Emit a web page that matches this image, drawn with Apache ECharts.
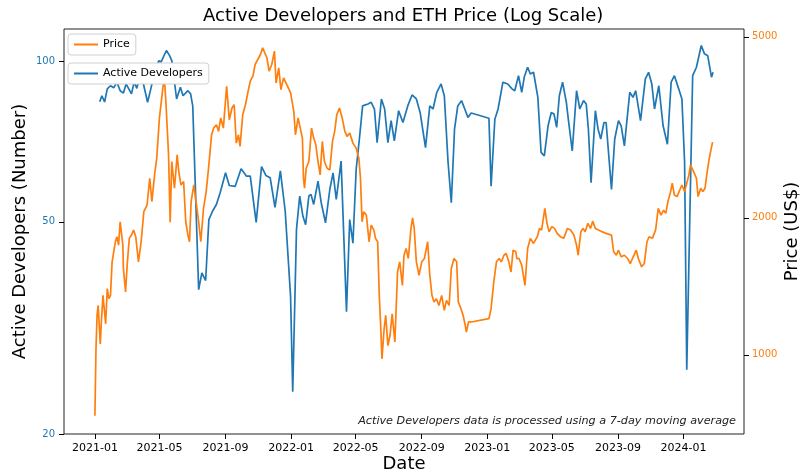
<!DOCTYPE html>
<html><head><meta charset="utf-8">
<script src="https://cdn.jsdelivr.net/npm/echarts@6/dist/echarts.min.js"></script>
<style>html,body{margin:0;padding:0;background:#fff}#c{width:801px;height:472px}</style>
</head><body><div id="c"></div>
<script>
const devDates = ['2021-01-10','2021-01-14','2021-01-19','2021-01-24','2021-01-30','2021-02-05','2021-02-11','2021-02-17','2021-02-23','2021-02-28','2021-03-03','2021-03-10','2021-03-15','2021-03-20','2021-03-27','2021-04-02','2021-04-09','2021-04-15','2021-04-22','2021-04-30','2021-05-04','2021-05-14','2021-05-20','2021-05-24','2021-06-02','2021-06-09','2021-06-14','2021-06-23','2021-06-28','2021-07-02','2021-07-07','2021-07-13','2021-07-19','2021-07-26','2021-08-01','2021-08-08','2021-08-15','2021-08-22','2021-09-01','2021-09-08','2021-09-19','2021-09-30','2021-10-10','2021-10-17','2021-10-28','2021-11-07','2021-11-15','2021-11-23','2021-12-02','2021-12-12','2021-12-21','2021-12-31','2022-01-04','2022-01-11','2022-01-17','2022-01-23','2022-01-28','2022-02-03','2022-02-07','2022-02-12','2022-02-20','2022-02-26','2022-03-06','2022-03-14','2022-03-20','2022-03-26','2022-04-04','2022-04-14','2022-04-20','2022-04-26','2022-05-02','2022-05-08','2022-05-14','2022-05-24','2022-05-30','2022-06-05','2022-06-10','2022-06-18','2022-06-24','2022-06-30','2022-07-06','2022-07-12','2022-07-20','2022-07-28','2022-08-06','2022-08-14','2022-08-22','2022-08-29','2022-09-08','2022-09-16','2022-09-22','2022-09-29','2022-10-07','2022-10-13','2022-10-20','2022-10-26','2022-11-01','2022-11-07','2022-11-14','2022-11-20','2022-11-26','2022-12-02','2023-01-04','2023-01-08','2023-01-15','2023-01-21','2023-01-30','2023-02-08','2023-02-16','2023-02-21','2023-02-28','2023-03-06','2023-03-11','2023-03-17','2023-03-22','2023-03-28','2023-04-05','2023-04-11','2023-04-17','2023-04-24','2023-04-30','2023-05-05','2023-05-10','2023-05-15','2023-05-21','2023-05-28','2023-06-01','2023-06-08','2023-06-16','2023-06-22','2023-06-29','2023-07-04','2023-07-08','2023-07-13','2023-07-21','2023-07-26','2023-07-31','2023-08-06','2023-08-10','2023-08-20','2023-08-26','2023-09-02','2023-09-07','2023-09-13','2023-09-23','2023-09-29','2023-10-04','2023-10-13','2023-10-22','2023-10-28','2023-11-03','2023-11-08','2023-11-16','2023-11-24','2023-12-02','2023-12-09','2023-12-15','2023-12-23','2023-12-29','2024-01-03','2024-01-07','2024-01-12','2024-01-18','2024-01-25','2024-02-03','2024-02-09','2024-02-15','2024-02-22','2024-02-25'];
const devValues = [84.0,86.2,83.9,88.8,90.0,89.2,91.4,88.1,87.2,90.7,91.4,86.9,91.4,89.0,95.4,90.0,83.8,88.8,95.4,100.3,99.7,104.8,102.5,100.3,85.0,89.4,86.2,88.1,86.9,82.5,57.5,37.3,40.1,38.8,50.5,52.4,53.9,56.7,61.8,58.5,58.3,62.9,60.9,60.9,49.9,63.5,61.1,60.5,53.2,62.3,52.4,36.2,24.0,48.4,55.9,51.2,49.4,55.9,56.3,53.9,59.6,54.3,49.8,57.5,61.8,55.1,65.0,33.9,50.5,45.6,62.7,71.5,82.5,83.2,83.8,81.4,70.4,85.0,81.4,70.4,77.4,70.9,80.8,76.8,82.5,86.5,85.0,80.2,68.9,82.5,81.4,87.5,90.7,86.2,64.6,54.3,74.6,82.5,84.4,81.4,78.5,80.0,78.2,58.3,77.9,81.4,91.4,90.7,88.8,88.1,94.0,87.5,93.7,97.5,94.7,95.4,85.6,67.5,66.5,75.7,80.2,79.7,75.2,86.2,91.4,83.8,77.4,67.9,88.1,81.4,84.4,83.2,74.6,59.2,80.8,74.6,71.5,76.8,76.8,57.5,71.5,77.4,75.7,69.4,87.5,85.6,88.1,77.4,92.7,95.4,90.7,81.4,90.0,75.7,69.9,91.4,94.0,88.8,85.0,64.6,26.4,47.0,94.0,97.5,107.1,103.3,102.5,93.4,95.4];

const priceDates = ['2021-01-01','2021-01-03','2021-01-05','2021-01-07','2021-01-11','2021-01-13','2021-01-16','2021-01-21','2021-01-24','2021-01-27','2021-01-30','2021-02-02','2021-02-05','2021-02-08','2021-02-11','2021-02-14','2021-02-17','2021-02-22','2021-02-23','2021-02-27','2021-03-02','2021-03-06','2021-03-10','2021-03-14','2021-03-18','2021-03-23','2021-03-28','2021-04-02','2021-04-08','2021-04-13','2021-04-17','2021-04-22','2021-04-26','2021-05-01','2021-05-06','2021-05-10','2021-05-13','2021-05-18','2021-05-21','2021-05-24','2021-05-29','2021-06-03','2021-06-06','2021-06-10','2021-06-15','2021-06-19','2021-06-23','2021-06-26','2021-06-29','2021-07-04','2021-07-09','2021-07-13','2021-07-17','2021-07-22','2021-07-27','2021-08-01','2021-08-06','2021-08-10','2021-08-15','2021-08-19','2021-08-23','2021-08-28','2021-09-03','2021-09-08','2021-09-13','2021-09-17','2021-09-21','2021-09-25','2021-09-28','2021-10-03','2021-10-08','2021-10-13','2021-10-17','2021-10-22','2021-10-26','2021-10-31','2021-11-05','2021-11-09','2021-11-13','2021-11-17','2021-11-21','2021-11-26','2021-12-01','2021-12-04','2021-12-09','2021-12-13','2021-12-18','2021-12-24','2021-12-31','2022-01-03','2022-01-06','2022-01-09','2022-01-14','2022-01-18','2022-01-22','2022-01-24','2022-01-26','2022-01-29','2022-02-03','2022-02-08','2022-02-12','2022-02-16','2022-02-20','2022-02-24','2022-02-28','2022-03-04','2022-03-09','2022-03-14','2022-03-19','2022-03-23','2022-03-27','2022-04-01','2022-04-06','2022-04-11','2022-04-15','2022-04-20','2022-04-26','2022-05-02','2022-05-07','2022-05-10','2022-05-13','2022-05-16','2022-05-21','2022-05-26','2022-05-30','2022-06-04','2022-06-07','2022-06-11','2022-06-14','2022-06-17','2022-06-19','2022-06-23','2022-06-26','2022-06-30','2022-07-04','2022-07-08','2022-07-13','2022-07-18','2022-07-22','2022-07-27','2022-07-30','2022-08-03','2022-08-07','2022-08-12','2022-08-15','2022-08-18','2022-08-22','2022-08-27','2022-09-01','2022-09-06','2022-09-12','2022-09-16','2022-09-20','2022-09-24','2022-09-28','2022-10-03','2022-10-08','2022-10-13','2022-10-17','2022-10-22','2022-10-26','2022-10-31','2022-11-05','2022-11-08','2022-11-13','2022-11-17','2022-11-21','2022-11-23','2022-11-27','2022-12-02','2023-01-04','2023-01-08','2023-01-13','2023-01-18','2023-01-23','2023-01-27','2023-02-01','2023-02-05','2023-02-10','2023-02-14','2023-02-18','2023-02-23','2023-02-25','2023-03-01','2023-03-06','2023-03-12','2023-03-17','2023-03-22','2023-03-28','2023-04-04','2023-04-08','2023-04-12','2023-04-18','2023-04-22','2023-04-26','2023-05-01','2023-05-06','2023-05-11','2023-05-17','2023-05-23','2023-05-30','2023-06-05','2023-06-11','2023-06-16','2023-06-19','2023-06-24','2023-06-28','2023-07-02','2023-07-07','2023-07-12','2023-07-16','2023-07-21','2023-07-27','2023-08-02','2023-08-10','2023-08-20','2023-08-24','2023-08-29','2023-09-02','2023-09-07','2023-09-13','2023-09-19','2023-09-24','2023-09-28','2023-10-05','2023-10-09','2023-10-15','2023-10-20','2023-10-25','2023-10-29','2023-11-04','2023-11-10','2023-11-15','2023-11-20','2023-11-25','2023-11-29','2023-12-03','2023-12-08','2023-12-11','2023-12-15','2023-12-20','2023-12-25','2023-12-29','2024-01-03','2024-01-11','2024-01-14','2024-01-21','2024-01-25','2024-01-28','2024-02-02','2024-02-06','2024-02-10','2024-02-14','2024-02-18','2024-02-21','2024-02-24'];
const priceValues = [735,1031,1221,1284,1057,1181,1351,1170,1398,1329,1351,1601,1684,1772,1818,1742,1961,1742,1548,1375,1574,1803,1833,1880,1818,1601,1772,2063,2134,2444,2172,2486,2705,3315,3730,4097,3608,2751,1955,2660,2323,2751,2528,2362,2403,1961,1833,1772,2172,2362,2134,1961,1772,2099,2284,2615,3045,3150,3203,3098,3315,3150,3893,3285,3486,3545,2919,3045,2871,3371,3545,3795,3994,4097,4345,4457,4571,4729,4610,4496,4203,4345,4651,3959,4273,3826,4062,3925,3763,3730,3428,3045,3315,3150,2994,2444,2323,2571,2660,3150,2994,2894,2660,2486,2944,2660,2571,2549,2944,3098,3371,3486,3315,3098,3020,3071,2919,2846,2705,2444,1961,2063,2028,1772,1928,1880,1803,1772,1351,1131,980,1141,1221,1048,1103,1231,1067,1521,1601,1421,1655,1713,1628,1896,2000,1896,1601,1496,1601,1628,1772,1496,1351,1307,1329,1284,1351,1252,1317,1284,1548,1628,1601,1307,1263,1221,1160,1122,1181,1181,1201,1263,1446,1601,1628,1601,1655,1670,1601,1521,1698,1684,1628,1628,1574,1421,1713,1803,1757,1818,1896,1880,2099,1945,1865,1913,1896,1849,1818,1803,1896,1880,1833,1742,1655,1865,1896,1865,1945,1896,1967,1896,1880,1865,1849,1833,1684,1655,1698,1642,1655,1628,1587,1628,1698,1628,1561,1587,1772,1818,1803,1880,2099,2028,2080,2046,2172,2284,2383,2245,2227,2303,2362,2284,2486,2615,2507,2444,2227,2323,2284,2323,2528,2705,2822,2934];

const xTickLabels = ['2021-01','2021-05','2021-09','2022-01','2022-05','2022-09','2023-01','2023-05','2023-09','2024-01'];
const devTicks = [20, 50, 100];
const priceTicks = [1000, 2000, 5000];
const devRange = [20, 115];
const priceRange = [670, 5200];

function ts(s) { const p = s.split('-'); return Date.UTC(+p[0], +p[1] - 1, p[2] ? +p[2] : 1); }
function fmtMonth(v) { const d = new Date(v); return d.getUTCFullYear() + '-' + String(d.getUTCMonth() + 1).padStart(2, '0'); }

const allT = devDates.concat(priceDates).map(ts);
const tMin = Math.min.apply(null, allT), tMax = Math.max.apply(null, allT);
const pad = (tMax - tMin) * 0.05;

const devData = devDates.map((d, i) => [ts(d), Math.log10(devValues[i])]);
const priceData = priceDates.map((d, i) => [ts(d), Math.log10(priceValues[i])]);

const FONT = '"DejaVu Sans", sans-serif';
const chart = echarts.init(document.getElementById('c'), null, { renderer: 'canvas' });
const legendBase = {
  orient: 'vertical', left: 68, icon: 'rect', itemWidth: 24, itemHeight: 2, padding: [4, 6],
  backgroundColor: '#fff', borderColor: '#d0d0d0', borderWidth: 1, borderRadius: 3,
  textStyle: { fontFamily: FONT, fontSize: 11, color: '#000', lineHeight: 13 }, selectedMode: false
};
chart.setOption({
  animation: false,
  textStyle: { fontFamily: FONT },
  title: { text: 'Active Developers and ETH Price (Log Scale)', left: 203, top: 7, padding: 0,
    textStyle: { fontFamily: FONT, fontSize: 18, fontWeight: 'normal', color: '#000' } },
  grid: { left: 64, right: 57, top: 29, bottom: 38, show: true, borderColor: '#222', borderWidth: 1,
    backgroundColor: 'transparent', containLabel: false, outerBoundsMode: 'none' },
  legend: [
    Object.assign({}, legendBase, { data: ['Price'], top: 34 }),
    Object.assign({}, legendBase, { data: ['Active Developers'], top: 63 })
  ],
  xAxis: {
    type: 'value', min: tMin - pad, max: tMax + pad, scale: true,
    name: 'Date', nameLocation: 'middle', nameGap: 21, nameMoveOverlap: false,
    nameTextStyle: { fontFamily: FONT, fontSize: 18, color: '#000' },
    axisLine: { show: false },
    axisTick: { show: true, length: 5, customValues: xTickLabels.map(ts), lineStyle: { color: '#000' } },
    axisLabel: { customValues: xTickLabels.map(ts), formatter: v => fmtMonth(v), fontFamily: FONT, fontSize: 11, color: '#000', margin: 9 },
    splitLine: { show: false }
  },
  yAxis: [
    {
      type: 'value', position: 'left', min: Math.log10(devRange[0]), max: Math.log10(devRange[1]),
      name: 'Active Developers (Number)', nameLocation: 'middle', nameGap: 35, nameRotate: 90, nameMoveOverlap: false,
      nameTextStyle: { fontFamily: FONT, fontSize: 18, color: '#000' },
      axisLine: { show: false },
      axisTick: { show: true, length: 5, customValues: devTicks.map(Math.log10), lineStyle: { color: '#000' } },
      axisLabel: { customValues: devTicks.map(Math.log10), formatter: v => String(Math.round(Math.pow(10, v))), fontFamily: FONT, fontSize: 10, color: '#1f77b4', margin: 9 },
      splitLine: { show: false }
    },
    {
      type: 'value', position: 'right', min: Math.log10(priceRange[0]), max: Math.log10(priceRange[1]),
      name: 'Price (US$)', nameLocation: 'middle', nameGap: 39, nameRotate: 90, nameMoveOverlap: false,
      nameTextStyle: { fontFamily: FONT, fontSize: 18, color: '#000' },
      axisLine: { show: false },
      axisTick: { show: true, length: 5, customValues: priceTicks.map(Math.log10), lineStyle: { color: '#000' } },
      axisLabel: { customValues: priceTicks.map(Math.log10), formatter: v => String(Math.round(Math.pow(10, v))), fontFamily: FONT, fontSize: 10, color: '#ff7f0e', margin: 8 },
      splitLine: { show: false }
    }
  ],
  series: [
    { name: 'Active Developers', type: 'line', yAxisIndex: 0, data: devData, symbol: 'none', smooth: false,
      lineStyle: { color: '#1f77b4', width: 1.7 }, itemStyle: { color: '#1f77b4' }, z: 2 },
    { name: 'Price', type: 'line', yAxisIndex: 1, data: priceData, symbol: 'none', smooth: false,
      lineStyle: { color: '#ff7f0e', width: 1.7 }, itemStyle: { color: '#ff7f0e' }, z: 3 }
  ],
  graphic: [
    { type: 'text', right: 65, top: 416, silent: true,
      style: { text: 'Active Developers data is processed using a 7-day moving average', font: 'italic 11.2px "DejaVu Sans"', fill: '#222' } }
  ]
});
</script></body></html>
